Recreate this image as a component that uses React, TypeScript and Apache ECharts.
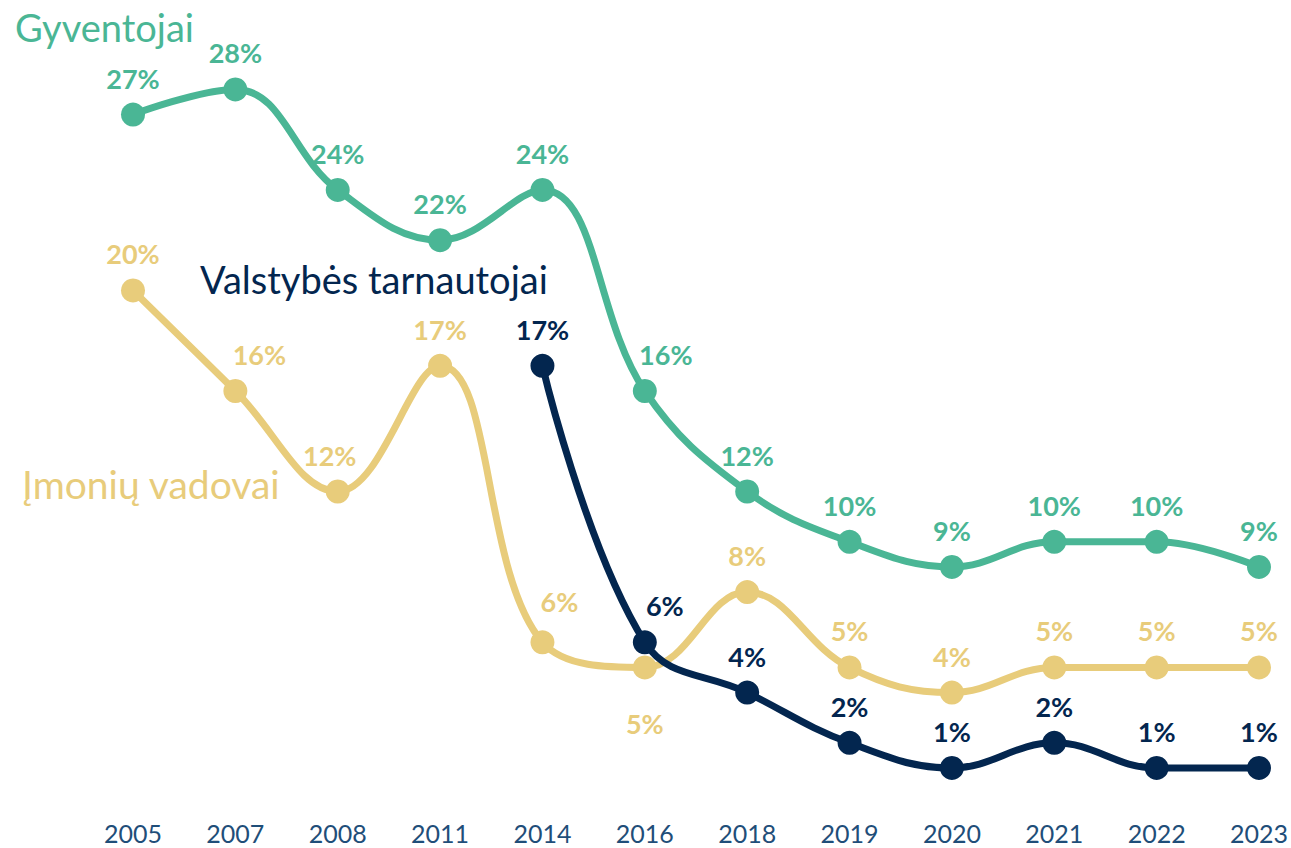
import React, { useEffect, useRef } from "react";
import * as echarts from "echarts";

const years = ["2005", "2007", "2008", "2011", "2014", "2016", "2018", "2019", "2020", "2021", "2022", "2023"];
const gyventojai = [27, 28, 24, 22, 24, 16, 12, 10, 9, 10, 10, 9];
const vadovai = [20, 16, 12, 17, 6, 5, 8, 5, 4, 5, 5, 5];
const tarnautojai: (number | null)[] = [null, null, null, null, 17, 6, 4, 2, 1, 2, 1, 1];
const seriesNames = ["Gyventojai", "Įmonių vadovai", "Valstybės tarnautojai"];

const GREEN = "#4AB695";
const YELLOW = "#E8CC7B";
const NAVY = "#03264F";
const AXIS = "#1F4E79";
const FONT = "Lato, 'Open Sans', sans-serif";

// label placement tweaks (index -> label override)
const greenLabelTweaks: Record<number, any> = { 5: { offset: [21, 0] } };
const yellowLabelTweaks: Record<number, any> = {
  1: { offset: [24, 0] },
  2: { offset: [-8, 0] },
  4: { offset: [17, -4] },
  5: { position: "bottom", distance: 31 },
};
const navyLabelTweaks: Record<number, any> = { 5: { offset: [20, 0] } };

function withTweaks(data: any[], tweaks: Record<number, any>) {
  return data.map((v, i) => (tweaks[i] && v != null ? { value: v, label: tweaks[i] } : v));
}

function makeSeries(name: string, data: any[], color: string, z: number) {
  return {
    name,
    type: "line",
    data,
    smooth: 0.4,
    z,
    symbol: "circle",
    symbolSize: 24,
    connectNulls: false,
    lineStyle: { color, width: 7 },
    itemStyle: { color },
    label: {
      show: true,
      position: "top",
      distance: 11,
      formatter: "{c}%",
      color,
      fontSize: 27,
      fontWeight: "bold",
      fontFamily: FONT,
    },
  };
}

export default function App() {
  const ref = useRef<HTMLDivElement>(null);
  useEffect(() => {
    if (!ref.current) return;
    const chart = echarts.init(ref.current, undefined, { renderer: "svg" });
    chart.setOption({
      animation: false,
      backgroundColor: "#ffffff",
      textStyle: { fontFamily: FONT },
      grid: { left: 133, right: 28, top: 89.4, bottom: 54.9, containLabel: false },
      xAxis: {
        type: "category",
        data: years,
        boundaryGap: false,
        axisLine: { show: false },
        axisTick: { show: false },
        splitLine: { show: false },
        axisLabel: { color: AXIS, fontSize: 25, lineHeight: 25, margin: 27, fontFamily: FONT },
      },
      yAxis: {
        type: "value",
        min: 0,
        max: 28,
        show: false,
        splitLine: { show: false },
      },
      series: [
        makeSeries(seriesNames[0], withTweaks(gyventojai, greenLabelTweaks), GREEN, 2),
        makeSeries(seriesNames[1], withTweaks(vadovai, yellowLabelTweaks), YELLOW, 3),
        makeSeries(seriesNames[2], withTweaks(tarnautojai, navyLabelTweaks), NAVY, 4),
      ],
      graphic: [
        {
          type: "text",
          left: 15,
          top: 8,
          style: { text: seriesNames[0], fill: GREEN, fontSize: 38, fontFamily: FONT },
        },
        {
          type: "text",
          left: 200,
          top: 260,
          style: { text: seriesNames[2], fill: NAVY, fontSize: 38, fontFamily: FONT },
        },
        {
          type: "text",
          left: 22,
          top: 464,
          style: { text: seriesNames[1], fill: YELLOW, fontSize: 39, fontFamily: FONT },
        },
      ],
    });
    return () => chart.dispose();
  }, []);
  return (
    <div
      ref={ref}
      style={{ position: "fixed", left: 0, top: 0, width: 1291, height: 848 }}
    />
  );
}
